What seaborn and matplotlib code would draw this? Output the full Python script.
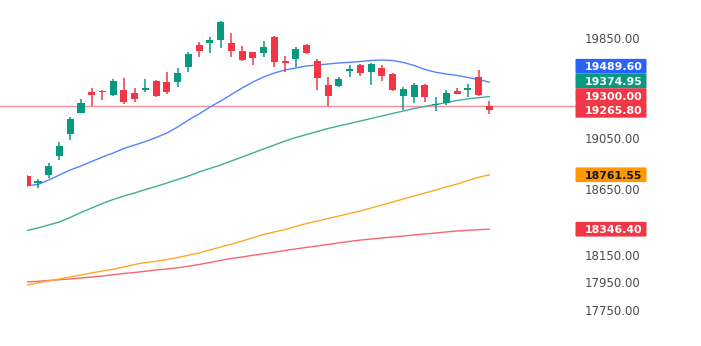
import numpy as np
import pandas as pd
import matplotlib
matplotlib.use("Agg")
import matplotlib.pyplot as plt
import seaborn as sns
from matplotlib.ticker import FixedLocator, FuncFormatter, NullLocator
from matplotlib.patches import FancyBboxPatch

# ---------------- data ----------------
opens = [18754.7, 18700.0, 18760.1, 18909.6, 19079.2, 19247.2, 19414.1, 19419.5, 19387.8, 19427.7,
         19406.1, 19427.7, 19502.0, 19494.0, 19494.0, 19609.9, 19786.5, 19804.4, 19831.2, 19804.4,
         19744.3, 19731.3, 19728.0, 19853.3, 19660.6, 19674.3, 19790.6, 19660.6, 19467.6, 19459.6,
         19580.7, 19628.4, 19574.5, 19601.8, 19556.0, 19379.8, 19369.4, 19463.6, 19305.8, 19321.6,
         19421.8, 19427.7, 19534.2, 19300.0]
highs = [18760.0, 18726.8, 18853.0, 19018.8, 19213.1, 19355.8, 19441.5, 19427.7, 19515.7, 19523.7,
         19441.5, 19515.7, 19507.6, 19574.5, 19604.2, 19733.7, 19817.5, 19858.0, 19989.3, 19890.8,
         19782.4, 19734.0, 19823.0, 19866.3, 19701.2, 19776.7, 19798.7, 19674.3, 19534.2, 19534.2,
         19629.0, 19636.5, 19647.0, 19629.0, 19561.7, 19449.2, 19481.2, 19471.6, 19374.2, 19427.7,
         19441.3, 19473.2, 19588.6, 19342.2]
lows = [18670.0, 18657.0, 18737.0, 18876.1, 19032.0, 19244.8, 19300.2, 19347.8, 19379.8, 19313.5,
        19334.3, 19414.1, 19371.8, 19395.8, 19449.5, 19572.6, 19695.3, 19728.0, 19763.6, 19695.3,
        19663.0, 19628.4, 19695.3, 19609.9, 19570.2, 19609.9, 19717.5, 19427.7, 19300.2, 19449.2,
        19534.2, 19539.8, 19467.6, 19499.5, 19422.0, 19268.5, 19326.4, 19334.3, 19263.0, 19308.2,
        19393.0, 19374.2, 19379.8, 19237.0]
closes = [18677.6, 18702.0, 18832.1, 18985.3, 19194.8, 19326.4, 19387.8, 19409.0, 19502.0, 19334.3,
          19353.4, 19441.3, 19379.8, 19414.1, 19566.5, 19715.0, 19744.3, 19831.2, 19981.0, 19744.3,
          19668.7, 19682.6, 19771.8, 19655.0, 19642.0, 19758.0, 19723.2, 19526.1, 19382.2, 19513.2,
          19594.4, 19566.5, 19636.5, 19539.8, 19427.7, 19433.3, 19467.6, 19374.2, 19316.0, 19401.4,
          19395.8, 19441.3, 19387.8, 19265.8]

ma_blue = [18679.2, 18686.9, 18721.4, 18760.1, 18798.8, 18829.8, 18864.5, 18899.5, 18930.7, 18965.8,
           18993.0, 19020.3, 19051.7, 19087.1, 19134.4, 19189.3, 19236.9, 19292.3, 19339.9, 19391.8,
           19443.7, 19491.6, 19531.8, 19564.0, 19588.2, 19604.3, 19620.4, 19628.4, 19636.5, 19644.5,
           19650.2, 19656.6, 19664.7, 19668.7, 19664.7, 19648.6, 19624.4, 19592.2, 19569.7, 19556.0,
           19543.9, 19527.8, 19511.6, 19489.6]
ma_green = [18336.8, 18355.6, 18378.3, 18400.9, 18435.0, 18473.0, 18507.2, 18541.4, 18571.8, 18598.7,
            18621.7, 18648.5, 18671.5, 18698.4, 18725.3, 18752.3, 18783.3, 18810.6, 18837.4, 18868.4,
            18899.5, 18930.7, 18961.9, 18993.0, 19024.1, 19051.7, 19075.3, 19098.9, 19122.6, 19142.1,
            19161.8, 19181.4, 19201.2, 19221.0, 19240.8, 19260.6, 19280.4, 19296.3, 19312.1, 19328.0,
            19343.8, 19357.4, 19366.0, 19374.95]
ma_orange = [17930.2, 17944.9, 17961.1, 17974.4, 17989.3, 18004.1, 18019.0, 18033.8, 18046.4, 18063.5,
             18082.1, 18096.9, 18105.8, 18119.2, 18134.2, 18150.7, 18167.9, 18190.3, 18212.7, 18233.6,
             18257.5, 18281.6, 18306.6, 18325.5, 18344.4, 18367.1, 18389.6, 18408.4, 18427.4, 18446.4,
             18465.4, 18484.4, 18507.2, 18530.0, 18552.8, 18575.7, 18598.7, 18621.7, 18644.7, 18667.7,
             18690.7, 18717.6, 18742.3, 18761.55]
ma_red = [17952.3, 17957.4, 17963.3, 17969.2, 17974.4, 17981.9, 17989.3, 17996.7, 18005.6, 18015.3,
          18022.7, 18031.6, 18041.3, 18048.7, 18057.6, 18068.8, 18082.1, 18097.0, 18113.3, 18126.7,
          18137.9, 18150.7, 18161.9, 18174.0, 18186.8, 18198.1, 18209.4, 18220.7, 18232.0, 18243.3,
          18254.7, 18264.5, 18272.5, 18280.2, 18287.7, 18295.3, 18302.8, 18310.4, 18317.9, 18325.5,
          18333.0, 18338.3, 18342.9, 18346.4]

hline_value = 19300.00
tick_values = [17750, 17950, 18150, 18650, 19050, 19850]
label_values = [19489.60, 19374.95, 19300.00, 19265.80, 18761.55, 18346.40]
label_colors = ["#2962FF", "#089981", "#F23645", "#F23645", "#FF9800", "#F23645"]
label_text_colors = ["white", "white", "white", "white", "#131722", "white"]

# ---------------- figure ----------------
sns.set_theme(style="white")
plt.rcParams["font.family"] = ["DejaVu Sans"]

W, H = 701, 346
fig = plt.figure(figsize=(W / 100, H / 100), dpi=100, facecolor="white")
ax_left, ax_right = 26.7, 575.0
ax = fig.add_axes([ax_left / W, 0.0, (ax_right - ax_left) / W, 1.0])
ax.set_facecolor("white")

n = len(opens)
idx = np.arange(n)
o = np.array(opens); c = np.array(closes); hi = np.array(highs); lo = np.array(lows)
up = c >= o
GREEN, RED = "#089981", "#F23645"
cols = np.where(up, GREEN, RED)

# moving averages via seaborn
ma_df = pd.DataFrame({
    "idx": np.concatenate([idx] * 4),
    "value": np.concatenate([ma_red, ma_orange, ma_green, ma_blue]),
    "ma": ["red"] * n + ["orange"] * n + ["green"] * n + ["blue"] * n,
})
palette = {"red": "#F7666F", "orange": "#FFA726", "green": "#3DAE98", "blue": "#5283FF"}
sns.lineplot(data=ma_df, x="idx", y="value", hue="ma", palette=palette,
             linewidth=1.0, legend=False, ax=ax, sort=False, estimator=None, zorder=2)

# horizontal price line
ax.set_xlim(-0.047, 50.96)
axw = ax_right - ax_left
ax.axhline(hline_value, xmin=-ax_left / axw, xmax=1.0, color="#F23645", alpha=0.55,
           lw=1.0, clip_on=False, zorder=1)

# candles
ax.vlines(idx, lo, hi, colors=cols, lw=1.1, zorder=3)
bottoms = np.minimum(o, c)
heights = np.maximum(np.abs(c - o), 12.0)
ax.bar(idx, heights, bottom=bottoms, width=0.66, color=cols, linewidth=0, zorder=4)

# y axis (log scale, right side)
ax.set_yscale("log")
ax.set_ylim(17485.7, 20160.2)
ax.yaxis.set_major_locator(FixedLocator(tick_values))
ax.yaxis.set_minor_locator(NullLocator())
ax.yaxis.set_major_formatter(FuncFormatter(lambda v, p: f"{v:.2f}"))
ax.yaxis.tick_right()
ax.tick_params(axis="y", length=0, pad=7.2, labelsize=8.5, labelcolor="#4a4a4a")
ax.set_xticks([])
ax.set_xlabel(""); ax.set_ylabel("")
for s in ax.spines.values():
    s.set_visible(False)
ax.grid(False)

# price label boxes (stacked so they do not overlap)
box_h = 14.7
box_x0, box_x1 = 575.0, 647.0
order = np.argsort(label_values)
prev = -1e9
ypos = {}
for k in order:
    yd = ax.transData.transform((0, label_values[k]))[1]
    yd = max(yd, prev + box_h)
    ypos[k] = yd
    prev = yd
for k in range(len(label_values)):
    yc = ypos[k]
    patch = FancyBboxPatch(((box_x0 + 0.5) / W, (yc - box_h / 2) / H),
                           (box_x1 - box_x0 - 1) / W, box_h / H,
                           boxstyle="round,pad=0,rounding_size=0.002",
                           transform=fig.transFigure, facecolor=label_colors[k],
                           edgecolor="none", zorder=10)
    fig.add_artist(patch)
    fig.text(585 / W, yc / H, f"{label_values[k]:.2f}", color=label_text_colors[k],
             fontsize=7.9, fontweight="bold", ha="left", va="center_baseline", zorder=11)

fig.savefig("out.png", dpi=100, facecolor="white")
